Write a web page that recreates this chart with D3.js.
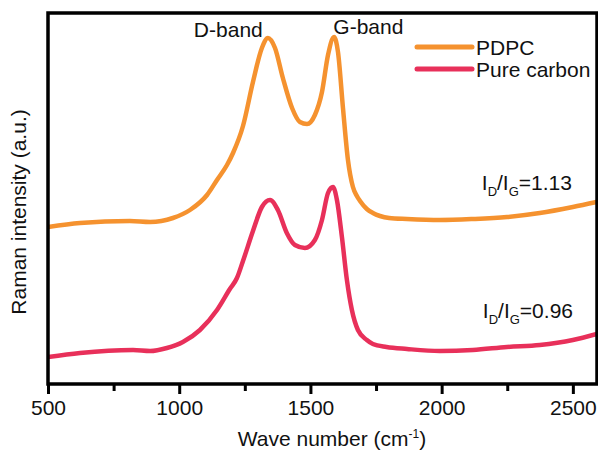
<!DOCTYPE html>
<html>
<head>
<meta charset="utf-8">
<script src="https://cdn.jsdelivr.net/npm/d3@7/dist/d3.min.js"></script>
<style>
  html, body { margin: 0; padding: 0; background: #ffffff; }
  svg { display: block; font-family: "Liberation Sans", Arial, sans-serif; }
</style>
</head>
<body>
<svg id="chart" width="598" height="450"></svg>
<script>
// ---- Data ----
const seriesNames = ["PDPC", "Pure carbon"];
const seriesColors = ["#F5922F", "#E8305A"];

const pdpcWave = [500, 622, 812, 889, 976, 1041, 1106, 1144, 1182, 1205, 1243, 1281, 1315, 1338, 1365, 1395, 1430, 1460, 1487, 1517, 1544, 1567, 1590, 1605, 1624, 1643, 1662, 1677, 1689, 1715, 1738, 1765, 1800, 1868, 1993, 2119, 2249, 2374, 2500, 2591];
const pdpcIntensity = [157, 161, 163, 162, 166, 174, 189, 204, 219, 231, 258, 302, 336, 346, 336, 306, 276, 262, 260, 269, 292, 329, 347, 332, 276, 224, 197, 188, 183, 175, 171, 168, 166, 165, 164, 165, 167, 171, 177, 182];

const carbonWave = [500, 622, 824, 889, 953, 1014, 1079, 1144, 1193, 1220, 1243, 1281, 1315, 1346, 1376, 1410, 1441, 1479, 1517, 1544, 1567, 1586, 1601, 1620, 1639, 1658, 1681, 1715, 1738, 1790, 1868, 1993, 2119, 2249, 2374, 2500, 2591];
const carbonIntensity = [27, 31, 34, 33, 36, 42, 54, 74, 95, 106, 123, 153, 177, 184, 174, 151, 139, 136, 144, 164, 191, 197, 184, 147, 104, 74, 54, 44, 40, 37, 35, 33, 34, 37, 39, 44, 50];

const xMajorTicks = [500, 1000, 1500, 2000, 2500];
const xMinorTicks = [750, 1250, 1750, 2250];

const annotations = [
  { text: "D-band", wave: 1345, val: 348 },
  { text: "G-band", wave: 1595, val: 350 }
];
const ratioLabels = [
  { value: "1.13", wave: 2153, val: 194 },
  { value: "0.96", wave: 2157, val: 66 }
];

// ---- Layout ----
const svg = d3.select("#chart");
const plotL = 48, plotR = 597, plotT = 13, plotB = 384;
const FS = 21;

const x = d3.scaleLinear().domain([500, 2592]).range([plotL, plotR]);
const y = d3.scaleLinear().domain([0, 371]).range([plotB, plotT]);

svg.append("defs").append("clipPath").attr("id", "clip")
  .append("rect").attr("x", plotL).attr("y", plotT).attr("width", plotR - plotL).attr("height", plotB - plotT);

const line = d3.line()
  .x(d => x(d[0]))
  .y(d => y(d[1]))
  .curve(d3.curveMonotoneX);

const series = [
  d3.zip(pdpcWave, pdpcIntensity),
  d3.zip(carbonWave, carbonIntensity)
];

const g = svg.append("g").attr("clip-path", "url(#clip)");
series.forEach((s, i) => {
  g.append("path")
    .datum(s)
    .attr("d", line)
    .attr("fill", "none")
    .attr("stroke", seriesColors[i])
    .attr("stroke-width", 4.5)
    .attr("stroke-linejoin", "round")
    .attr("stroke-linecap", "round");
});

// Frame
svg.append("rect")
  .attr("x", plotL).attr("y", plotT)
  .attr("width", plotR - plotL).attr("height", plotB - plotT)
  .attr("fill", "none").attr("stroke", "#000").attr("stroke-width", 3.5);

// X axis (major + minor ticks)
const xAxis = d3.axisBottom(x).tickValues(xMajorTicks).tickSize(10).tickPadding(6).tickFormat(d3.format("d"));
const ax = svg.append("g").attr("transform", `translate(0,${plotB})`).call(xAxis);
ax.select(".domain").remove();
ax.selectAll(".tick line").attr("stroke", "#000").attr("stroke-width", 3);
ax.selectAll(".tick text").attr("font-size", FS).attr("fill", "#111")
  .attr("font-family", "'Liberation Sans', Arial, sans-serif");

const xAxisMinor = d3.axisBottom(x).tickValues(xMinorTicks).tickSize(7).tickFormat("");
const axm = svg.append("g").attr("transform", `translate(0,${plotB})`).call(xAxisMinor);
axm.select(".domain").remove();
axm.selectAll(".tick line").attr("stroke", "#000").attr("stroke-width", 3);

// Axis titles
const xt = svg.append("text")
  .attr("x", 332).attr("y", 446)
  .attr("text-anchor", "middle").attr("font-size", FS).attr("fill", "#111");
xt.append("tspan").text("Wave number (cm");
xt.append("tspan").text("-1").attr("font-size", 12).attr("dy", -8);
xt.append("tspan").text(")").attr("dy", 8);

svg.append("text")
  .attr("transform", "translate(26,212) rotate(-90)")
  .attr("text-anchor", "middle").attr("font-size", FS).attr("fill", "#111")
  .text("Raman intensity (a.u.)");

// Band annotations
svg.append("text").attr("x", x(annotations[0].wave) - 7).attr("y", 37)
  .attr("text-anchor", "end").attr("font-size", FS).attr("fill", "#111")
  .text(annotations[0].text);
svg.append("text").attr("x", x(annotations[1].wave) - 2).attr("y", 34)
  .attr("text-anchor", "start").attr("font-size", FS).attr("fill", "#111")
  .text(annotations[1].text);

// Ratio labels
ratioLabels.forEach(r => {
  const t = svg.append("text")
    .attr("x", x(r.wave)).attr("y", y(r.val))
    .attr("font-size", FS).attr("fill", "#111");
  t.append("tspan").text("I");
  t.append("tspan").text("D").attr("font-size", 13).attr("dy", 6);
  t.append("tspan").text("/I").attr("dy", -6);
  t.append("tspan").text("G").attr("font-size", 13).attr("dy", 6);
  t.append("tspan").text("=" + r.value).attr("dy", -6);
});

// Legend
const legend = svg.append("g");
seriesNames.forEach((name, i) => {
  const ly = 47 + i * 22;
  legend.append("line")
    .attr("x1", 417).attr("x2", 472).attr("y1", ly).attr("y2", ly)
    .attr("stroke", seriesColors[i]).attr("stroke-width", 5).attr("stroke-linecap", "round");
  legend.append("text")
    .attr("x", 476).attr("y", ly + 7.5)
    .attr("font-size", FS).attr("fill", "#111")
    .text(name);
});
</script>
</body>
</html>
